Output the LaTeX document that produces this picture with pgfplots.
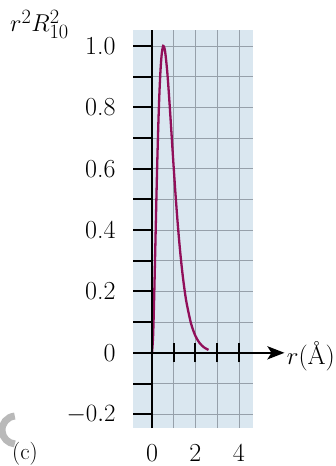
\documentclass[border=0pt]{standalone}
\usepackage{pgfplots}
\pgfplotsset{compat=1.18}
\usetikzlibrary{arrows.meta}
\definecolor{bgblue}{RGB}{218,231,240}
\definecolor{gridgray}{RGB}{150,160,170}
\definecolor{curvecol}{RGB}{145,15,90}
\begin{document}
\begin{tikzpicture}[x=1pt,y=1pt]
\useasboundingbox (0,0) rectangle (335,466);
\begin{axis}[
  at={(133pt,38pt)}, anchor=south west,
  scale only axis, width=120pt, height=398pt,
  xmin=-0.875, xmax=4.65, ymin=-0.245, ymax=1.052,
  clip=false,
  axis x line*=bottom, axis y line*=left,
  axis line style={draw=none},
  axis background/.style={fill=bgblue},
  xtick={0,1,2,3,4}, xticklabels={0,,2,,4},
  xtick style={draw=none},
  ytick={-0.2,0,0.2,0.4,0.6,0.8,1.0},
  yticklabels={$-0.2$,0,0.2,0.4,0.6,0.8,1.0},
  minor ytick={-0.1,0.1,0.3,0.5,0.7,0.9},
  ytick pos=left, tick align=inside,
  major tick length=19pt, minor tick length=19pt,
  ytick style={black, line width=2pt},
  every minor tick/.append style={black, line width=2pt},
  xmajorgrids, ymajorgrids, yminorgrids,
  major grid style={gridgray, line width=0.7pt},
  minor grid style={gridgray, line width=0.7pt},
  tick label style={font=\fontsize{26}{30}\selectfont},
  yticklabel style={xshift=-14pt},
  xticklabel style={yshift=-13pt},
]
\addplot[curvecol, line width=2.3pt, smooth] coordinates {
(0,0) (0.05,0.0546) (0.1,0.1809) (0.15,0.337) (0.2,0.4959) (0.25,0.6412)
(0.3,0.7645) (0.35,0.8613) (0.4,0.931) (0.45,0.9755) (0.5,0.9969) (0.529,1.0)
(0.6,0.9837) (0.7,0.9174) (0.8,0.8208) (0.9,0.7121) (1.0,0.6022) (1.1,0.4992)
(1.2,0.4071) (1.3,0.3274) (1.4,0.2602) (1.5,0.2046) (1.6,0.1595) (1.8,0.0948)
(2.0,0.0549) (2.2,0.0312) (2.4,0.0174) (2.6,0.0096)
};
\draw[black, line width=2.8pt] (axis cs:0,-0.245) -- (axis cs:0,1.052);
\draw[black, line width=2.6pt, -{Stealth[length=17pt,width=13pt,inset=4pt]}]
  (axis cs:-0.875,0) -- (axis cs:6.1,0);
\pgfplotsinvokeforeach{1,2,3,4}{
  \draw[black, line width=2pt] ([yshift=-9.5pt]axis cs:#1,0) -- ([yshift=9.5pt]axis cs:#1,0);
}
\node[anchor=west, font=\fontsize{26}{30}\selectfont, inner sep=0pt]
  at (axis cs:6.2,-0.012) {$r$(Å)};
\end{axis}
\node[anchor=base west, inner sep=0pt, scale=0.98, font=\fontsize{24.88}{30}\selectfont]
  at (10,434) {$r^2R^2_{10}$};
\node[inner sep=0pt, font=\fontsize{23}{26}\selectfont] at (25,12) {(c)};
\draw[gray!55, line width=7pt] (16,36) ++(95:14) arc (95:265:14);
\end{tikzpicture}
\end{document}
